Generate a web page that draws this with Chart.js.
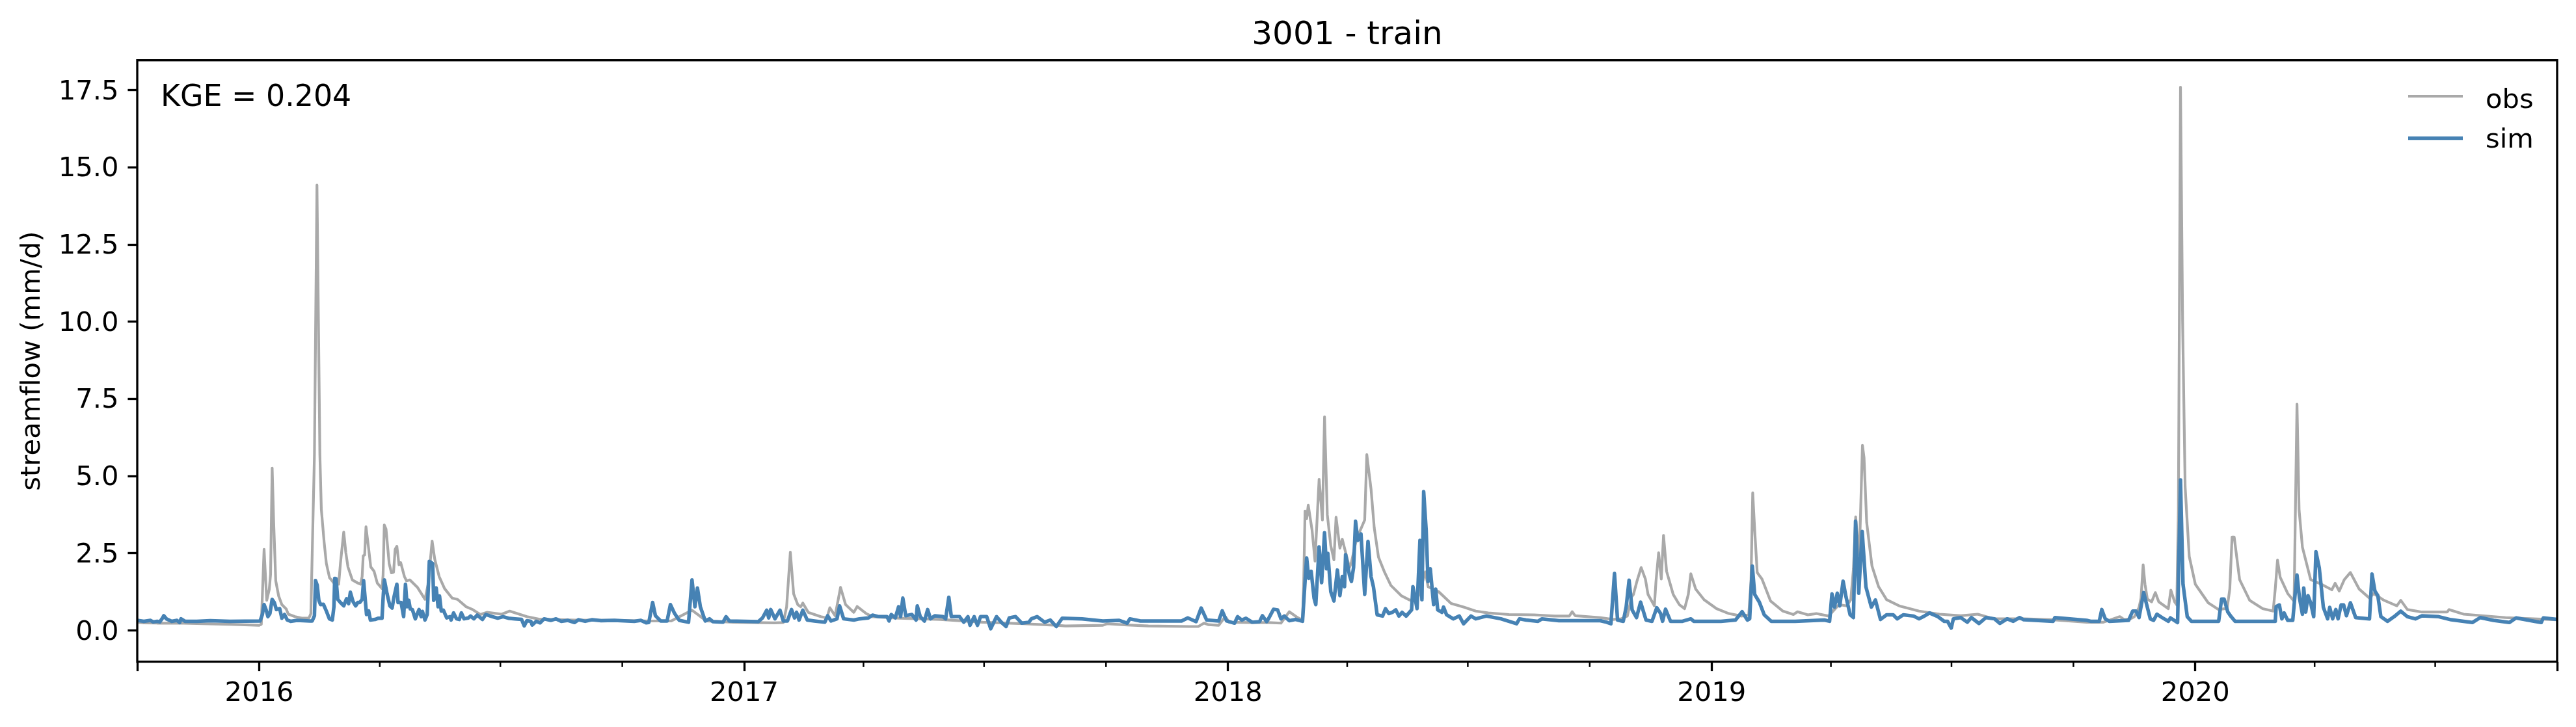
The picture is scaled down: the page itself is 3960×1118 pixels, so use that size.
<!DOCTYPE html>
<html>
<head>
<meta charset="utf-8">
<title>3001 - train</title>
<script src="https://cdn.jsdelivr.net/npm/chart.js@4"></script>
<style>
    html, body { margin: 0; padding: 0; background: #fff; }
    canvas { display: block; }
</style>
</head>
<body>
<canvas id="flowChart" width="3960" height="1118"></canvas>
<script>
// x values are days since 2015-10-01 at the turning points of each line
const obsDays = [0,5,15,30,50,70,85,92,93.6,95.7,97.7,99.6,100.6,101.8,102.9,104.5,106.7,109.1,112.4,114,119,124.7,129.6,131,133.7,135.6,137.8,138.9,141,142.7,145.1,148.4,152,153.3,155.8,157.4,159,162.3,166.4,168.5,169.7,170.5,171.6,172.6,174.6,176.2,178.7,181.1,184.7,185.5,186.4,187.7,190.1,191.8,193.4,194.6,195.9,197.5,198.8,201.6,203.2,205.7,211.4,217.1,219.5,222.5,224.5,227.8,231.9,237.6,241.7,248.2,253.1,258.9,263.8,275,281,294,303,330,365,387,403,418.6,426.4,429.6,450,481,487.5,490,492.8,495.3,498.4,500.6,502.2,506.3,515.7,520.4,522.6,526.6,530.7,534.5,540.7,543.2,550.1,554.8,575,606,638,669,694,700.4,728.6,731.7,747,763,794,800.6,805,808.4,816,821,824,841,853.6,863,869.3,875.5,879.3,880.2,881.2,882.4,883.6,886.5,888.7,891.8,894.3,895.9,898,900.6,903,904.6,907.5,909.3,914.7,916.2,919.3,922.5,926.2,927.8,931,933.4,936.6,941.3,946,953.8,960,965.7,972,974.1,982,991.4,1000.8,1010,1019.5,1035,1054,1069.6,1080.6,1082.8,1085,1104,1113.5,1119.7,1124.4,1127.6,1129,1131.6,1134.8,1138,1140,1144.8,1146,1148,1150,1151.7,1154,1159,1163.6,1167.6,1170.4,1172.3,1176,1182.3,1191.7,1201,1210.5,1216,1217.7,1219,1220.5,1222.4,1226,1232.4,1241.8,1249.7,1252.8,1260.6,1267,1276.3,1284,1290,1293,1295,1296.7,1298,1299.5,1300.5,1301.8,1303,1305,1309,1314,1320,1329.5,1344.5,1360,1376,1388.8,1401,1423.5,1445.7,1471,1483.6,1496,1499.4,1504,1507,1510.5,1512,1513.6,1515,1516.8,1520,1522.8,1525.4,1532.6,1534.5,1537.4,1539,1540.2,1541.8,1543.4,1545.3,1548.4,1553,1562.7,1570.6,1577,1579,1580.7,1582.3,1586.4,1594,1603.8,1611.7,1613.3,1615,1617,1622.7,1627.5,1628,1629.7,1631.3,1633.8,1640,1648,1656,1658.5,1661.6,1665.4,1670,1676.5,1684.4,1687.5,1695.4,1705,1708,1713,1724,1743,1744.5,1755.5,1787,1826];
const obsValues = [0.27,0.25,0.24,0.24,0.22,0.2,0.18,0.17,0.2,2.63,0.98,1.33,1.82,5.26,3.57,1.61,1.12,0.84,0.7,0.53,0.45,0.4,0.41,0.55,5.7,14.43,5.7,3.93,2.87,2.17,1.71,1.54,1.5,2.17,3.19,2.52,2.06,1.64,1.54,1.5,1.75,2.42,2.45,3.36,2.66,2.06,1.92,1.54,1.36,1.8,3.42,3.29,2.17,1.87,1.89,2.63,2.73,2.13,2.2,1.75,1.61,1.64,1.4,1.01,1.5,2.9,2.31,1.75,1.36,1.05,1.01,0.77,0.68,0.52,0.59,0.53,0.63,0.45,0.37,0.34,0.33,0.31,0.31,0.66,0.41,0.31,0.27,0.25,0.26,0.77,2.54,1.19,0.84,0.77,0.89,0.59,0.45,0.41,0.74,0.48,1.4,0.84,0.59,0.78,0.55,0.45,0.4,0.36,0.27,0.22,0.17,0.15,0.17,0.22,0.18,0.15,0.13,0.13,0.24,0.19,0.17,0.45,0.27,0.26,0.26,0.24,0.61,0.42,0.34,1.59,3.87,3.62,4.06,3.25,2.25,4.9,3.58,6.92,3.75,2.75,2.29,3.67,2.67,2.96,2.04,2.21,2.83,3.21,3.58,5.7,4.58,3.33,2.38,1.88,1.46,1.13,0.99,0.96,1.9,1.42,1.26,0.88,0.76,0.63,0.57,0.52,0.51,0.47,0.47,0.61,0.48,0.42,0.36,0.38,0.47,1.09,1.17,1.59,2.04,1.67,1.17,0.8,1.59,2.52,1.67,3.08,1.92,1.17,0.84,0.71,1.17,1.84,1.34,1,0.71,0.55,0.47,0.51,1.59,4.46,3.25,1.88,1.67,0.96,0.63,0.52,0.61,0.51,0.55,0.47,0.84,0.8,1,2,3.68,3,2.46,4,6,5.6,3.5,2.09,1.42,1,0.8,0.63,0.53,0.48,0.53,0.38,0.38,0.35,0.27,0.27,0.45,0.35,0.38,0.45,0.75,1.05,2.13,1.5,1.02,0.93,1.23,0.93,0.71,1.31,0.93,0.83,3.9,17.6,10,4.66,2.4,1.5,0.9,0.68,0.72,1.35,3.03,3.03,1.65,0.98,0.71,0.63,1.35,2.28,1.73,1.2,0.95,2.4,7.33,3.9,2.7,1.65,1.5,1.32,1.53,1.28,1.65,1.88,1.35,1.05,1.2,0.98,0.8,0.98,0.68,0.6,0.6,0.68,0.53,0.42,0.35];

const simDays = [0,5,10,12,15,17,19,20,22,26,30,32,33,36,45,55,70,92.7,94.4,95.7,97.3,98.6,100.1,101.8,103.4,105,107.5,109.1,111.1,113.2,115.7,120.6,130.4,132,133.7,134.5,135.8,137,138.3,140.5,142.7,145,147.2,148.4,149,150,151.3,153.3,155.8,157.9,159.5,160.8,162.8,164.8,166.4,168,169.7,170.8,171.8,173,174.6,175.9,179.5,182,184.7,185.7,186.5,188.5,190.6,192.3,193.9,195.9,196.8,199.1,201,202.4,203.7,204.9,206,207.6,209.8,212.6,214.2,215.2,217.1,218.8,220.4,222.9,223.7,225.6,227,228.1,229.4,231,233.5,236,236.8,238.7,240.9,243,244.6,246.6,249.9,251.5,254,256.5,260.5,263,268,272,276,280,285,290,292,294,297,298,301,304,307,312,316,320,325,330,333,338,343,350,360,375,380,384,386,388.9,391,395,399.8,402.3,405.5,409,416,418.6,420.8,422.7,424.9,428.6,431.8,434.3,442,444.3,446.8,468.7,471.8,475,476.5,478,481.2,485,487.5,490.6,493.7,496,497.5,499.4,502.2,505.6,511,518.8,521,523.5,528,530,533,540.7,545,551.7,554.8,559.5,565.8,567.3,569,572,574.5,576,577.7,579.9,584.5,587.7,588.6,590.8,594,596.4,598.6,601.8,608,610,612.4,614.3,620.5,623.7,626.8,628.4,631.5,634,636.3,641,644,648.4,652,655.6,658,662.8,667.5,672.8,674.7,679,684.7,689,693.5,698,713,728.6,741,747,749,757,788,792.7,799,802.8,807,816,818.7,822,828,830.3,833.5,836.6,841.3,846.9,849,852.2,853.6,857.4,860.5,863,865.5,869.3,874,879.3,881.2,882.4,884,885.8,888,889.3,891.8,893.7,895.9,897.4,898.4,900.6,903,905.6,907.5,909.3,911,911.8,914.7,916.2,917.8,919.3,921,923.4,926.2,928.7,931,932.8,935.6,939.7,941.9,944.4,947,949.7,952,954.4,957.5,961.6,962.6,965.7,967.9,969.4,970.7,972.6,974,975.7,978.2,979.8,981.3,984.5,985.7,988,993,997.6,1000.8,1006.4,1010,1018,1029,1040.8,1043,1048,1057,1060,1072.8,1104,1108.8,1112,1114.7,1117,1121.3,1123.5,1125.7,1128,1131.3,1134.4,1138.5,1143,1146.6,1149.5,1151,1153.2,1157,1166,1172.3,1174.5,1195,1206,1211,1215,1216.7,1218.7,1220.5,1224,1227.7,1233,1251,1273,1277,1278.8,1280.7,1282.8,1284.7,1287.2,1289.4,1292.5,1295,1296.6,1299,1301.6,1304.4,1308.5,1311.6,1315.4,1320,1325,1328,1332.6,1340.4,1344.5,1347.7,1352.4,1358.7,1363.5,1366,1368.8,1370.4,1376,1380.9,1384,1389.7,1395,1401.4,1405.5,1411,1415.6,1420.4,1423.5,1445.7,1447,1471,1474,1480.5,1482.4,1485,1488,1502.6,1505.7,1508.3,1510.5,1514,1516.8,1519,1521.5,1524,1527.9,1532.6,1534.2,1539.6,1541.8,1543.7,1546.9,1550,1570.6,1572.8,1574.7,1577.5,1580,1583,1613.3,1614,1616.4,1618.3,1620,1622.7,1626.5,1628,1629.7,1631.6,1633.8,1634.8,1636.3,1638,1640,1642.3,1644,1646.5,1649.6,1652.8,1654.4,1656.6,1659,1660.7,1663,1664.9,1667,1670,1674,1684.4,1686.3,1688.5,1690.7,1693,1698,1703,1708,1713,1719,1724,1736.6,1746,1762,1768,1778,1790,1795,1809,1814,1815.6,1826];
const simValues = [0.33,0.3,0.33,0.28,0.3,0.28,0.4,0.48,0.38,0.3,0.33,0.26,0.38,0.3,0.3,0.32,0.3,0.31,0.52,0.84,0.66,0.45,0.55,1.01,0.91,0.68,0.71,0.4,0.52,0.34,0.3,0.33,0.31,0.31,0.48,1.62,1.47,0.98,0.84,0.85,0.63,0.38,0.34,0.77,1.69,1.68,1.01,0.91,0.8,1.03,0.87,1.24,0.94,0.8,0.91,0.91,1.01,1.62,1.12,0.52,0.64,0.34,0.36,0.4,0.4,1.19,1.64,1.19,0.8,0.73,1.12,1.5,0.91,0.91,0.45,1.5,0.77,0.98,0.7,0.68,0.38,0.68,0.45,0.62,0.34,0.52,2.24,2.17,0.98,1.38,0.77,1.12,0.63,0.66,0.41,0.45,0.34,0.57,0.38,0.36,0.57,0.38,0.41,0.47,0.38,0.5,0.36,0.52,0.45,0.4,0.45,0.4,0.38,0.36,0.15,0.32,0.3,0.18,0.3,0.25,0.38,0.33,0.38,0.3,0.33,0.26,0.35,0.3,0.35,0.32,0.33,0.3,0.33,0.25,0.26,0.91,0.48,0.31,0.31,0.84,0.55,0.33,0.27,1.64,0.77,1.38,0.77,0.31,0.38,0.29,0.27,0.45,0.31,0.29,0.41,0.66,0.41,0.68,0.38,0.66,0.31,0.31,0.68,0.41,0.59,0.34,0.66,0.34,0.31,0.27,0.48,0.31,0.38,0.8,0.38,0.34,0.38,0.41,0.5,0.45,0.45,0.31,0.52,0.41,0.77,0.45,1.05,0.48,0.52,0.34,0.8,0.45,0.31,0.68,0.38,0.48,0.45,0.38,1.08,0.45,0.45,0.27,0.45,0.17,0.45,0.17,0.45,0.45,0.06,0.45,0.27,0.13,0.41,0.45,0.24,0.27,0.38,0.45,0.27,0.34,0.13,0.4,0.38,0.31,0.33,0.24,0.38,0.31,0.31,0.41,0.29,0.73,0.34,0.31,0.64,0.31,0.24,0.45,0.34,0.4,0.27,0.29,0.48,0.29,0.38,0.69,0.67,0.38,0.47,0.32,0.36,0.3,1.59,2.35,1.69,1.92,1.05,0.84,2.71,1.55,3.17,2,2.5,1.26,0.96,1.96,1.13,1.75,1.42,2.46,1.8,1.59,2.04,3.54,2.92,3.13,1.17,2.89,1.75,1.42,0.51,0.47,0.71,0.55,0.59,0.67,0.47,0.59,0.47,0.67,1.42,0.71,2.92,1,4.5,3.25,1.59,2,0.84,1.34,0.67,0.59,0.76,0.51,0.38,0.47,0.22,0.47,0.38,0.47,0.38,0.22,0.38,0.34,0.3,0.38,0.32,0.32,0.27,0.22,1.85,0.34,0.3,0.76,1.63,0.67,0.42,0.92,0.34,0.3,0.74,0.55,0.3,0.69,0.3,0.3,0.38,0.3,0.3,0.34,0.61,0.34,0.38,2.09,1.17,0.92,0.51,0.3,0.3,0.34,0.3,1.19,0.76,1.21,0.8,1.6,1.09,0.51,0.42,3.54,1.21,3.21,1.42,0.76,0.99,0.36,0.51,0.51,0.38,0.51,0.47,0.38,0.45,0.57,0.45,0.3,0.3,0.08,0.38,0.42,0.27,0.42,0.23,0.42,0.38,0.23,0.38,0.3,0.42,0.35,0.3,0.42,0.33,0.3,0.3,0.68,0.38,0.3,0.33,0.63,0.63,0.42,1.23,0.75,0.38,0.33,0.53,0.42,0.3,0.41,0.26,4.88,1.5,0.45,0.3,0.3,1.02,1.02,0.6,0.45,0.3,0.3,0.78,0.83,0.38,0.57,0.33,0.33,1.05,1.8,1.05,0.53,1.38,0.6,1.13,0.9,0.45,2.55,2.03,0.75,0.38,0.75,0.38,0.68,0.38,0.83,0.83,0.48,0.9,0.42,0.38,1.83,1.28,1.13,0.45,0.3,0.45,0.63,0.45,0.38,0.48,0.45,0.35,0.26,0.42,0.33,0.26,0.41,0.3,0.26,0.41,0.36];

// axis ticks
const yearTicks = [92, 458, 823, 1188, 1553];
const yearLabels = ['2016', '2017', '2018', '2019', '2020'];
const edgeTicks = [0, 1826];
const quarterTicks = [183, 274, 366, 548, 639, 731, 913, 1004, 1096, 1278, 1369, 1461, 1643, 1734];
const yTicks = [0, 2.5, 5, 7.5, 10, 12.5, 15, 17.5];
const kgeText = 'KGE = 0.204';
const seriesNames = ['obs', 'sim'];
const seriesColors = ['#a9a9a9', '#4682b4'];

const FONT = '"DejaVu Sans"';
const LINE_OBS = 4.17;
const LINE_SIM = 5.5;
const SPINE = 3.33;

function toPoints(days, values) {
    return days.map((d, i) => ({ x: d, y: values[i] }));
}

// spines, minor ticks, the KGE note and the legend
const decorations = {
    id: 'decorations',
    beforeDraw(chart) {
        // no "fl" ligature in the axis title
        chart.ctx.textRendering = 'optimizeSpeed';
    },
    afterDraw(chart) {
        const { ctx, chartArea, scales } = chart;
        ctx.save();
        ctx.strokeStyle = '#000';
        ctx.lineWidth = SPINE;
        ctx.strokeRect(chartArea.left, chartArea.top, chartArea.width, chartArea.height);

        ctx.lineWidth = 2.5;
        quarterTicks.forEach(day => {
            const x = scales.x.getPixelForValue(day);
            ctx.beginPath();
            ctx.moveTo(x, chartArea.bottom);
            ctx.lineTo(x, chartArea.bottom + 8.3);
            ctx.stroke();
        });

        ctx.fillStyle = '#000';
        ctx.textBaseline = 'alphabetic';
        ctx.textAlign = 'left';
        ctx.font = '45.83px ' + FONT;
        ctx.fillText(kgeText, 247, 162.5);

        ctx.font = '41.67px ' + FONT;
        const rows = [[148, 165.5, LINE_OBS], [212.5, 226.5, LINE_SIM]];
        rows.forEach((row, i) => {
            ctx.strokeStyle = seriesColors[i];
            ctx.lineWidth = row[2];
            ctx.beginPath();
            ctx.moveTo(3702, row[0]);
            ctx.lineTo(3786, row[0]);
            ctx.stroke();
            ctx.fillText(seriesNames[i], 3821, row[1]);
        });
        ctx.restore();
    }
};

new Chart(document.getElementById('flowChart'), {
    type: 'line',
    data: {
        datasets: [
            {
                label: seriesNames[0],
                data: toPoints(obsDays, obsValues),
                borderColor: seriesColors[0],
                borderWidth: LINE_OBS,
                order: 2
            },
            {
                label: seriesNames[1],
                data: toPoints(simDays, simValues),
                borderColor: seriesColors[1],
                borderWidth: LINE_SIM,
                order: 1
            }
        ]
    },
    plugins: [decorations],
    options: {
        responsive: false,
        animation: false,
        devicePixelRatio: 1,
        layout: { padding: { right: 29 } },
        elements: {
            point: { radius: 0 },
            line: { tension: 0, borderJoinStyle: 'round', borderCapStyle: 'round' }
        },
        plugins: {
            legend: { display: false },
            tooltip: { enabled: false },
            title: {
                display: true,
                text: '3001 - train',
                color: '#000',
                fullSize: false,
                font: { family: FONT, size: 50, weight: 'normal', lineHeight: 1.2 },
                padding: { top: 25, bottom: 7.7 }
            }
        },
        scales: {
            x: {
                type: 'linear',
                min: 0,
                max: 1826,
                border: { display: false },
                grid: { drawOnChartArea: false, tickLength: 14.6, tickWidth: SPINE, tickColor: '#000' },
                afterBuildTicks(scale) {
                    scale.ticks = edgeTicks.concat(yearTicks).sort((a, b) => a - b).map(v => ({ value: v }));
                },
                afterFit(scale) { scale.height = 100.5; },
                ticks: {
                    autoSkip: false,
                    maxRotation: 0,
                    color: '#000',
                    padding: 10,
                    font: { family: FONT, size: 41.67 },
                    callback(value) {
                        const i = yearTicks.indexOf(value);
                        return i >= 0 ? yearLabels[i] : '';
                    }
                }
            },
            y: {
                type: 'linear',
                min: -1.007,
                max: 18.47,
                border: { display: false },
                grid: { drawOnChartArea: false, tickLength: 14.6, tickWidth: SPINE, tickColor: '#000' },
                afterBuildTicks(scale) {
                    scale.ticks = yTicks.map(v => ({ value: v }));
                },
                afterFit(scale) { scale.width = 211; },
                title: {
                    display: true,
                    text: 'streamflow (mm/d)',
                    color: '#000',
                    font: { family: FONT, size: 41.67, weight: 'normal' },
                    padding: { top: 25, bottom: 0 }
                },
                ticks: {
                    autoSkip: false,
                    color: '#000',
                    padding: 14,
                    // the empty first line nudges each label down by half a line height, to sit level with its tick
                    font: { family: FONT, size: 41.67, lineHeight: 0.144 },
                    callback: value => ['', value.toFixed(1)]
                }
            }
        }
    }
});
</script>
</body>
</html>
